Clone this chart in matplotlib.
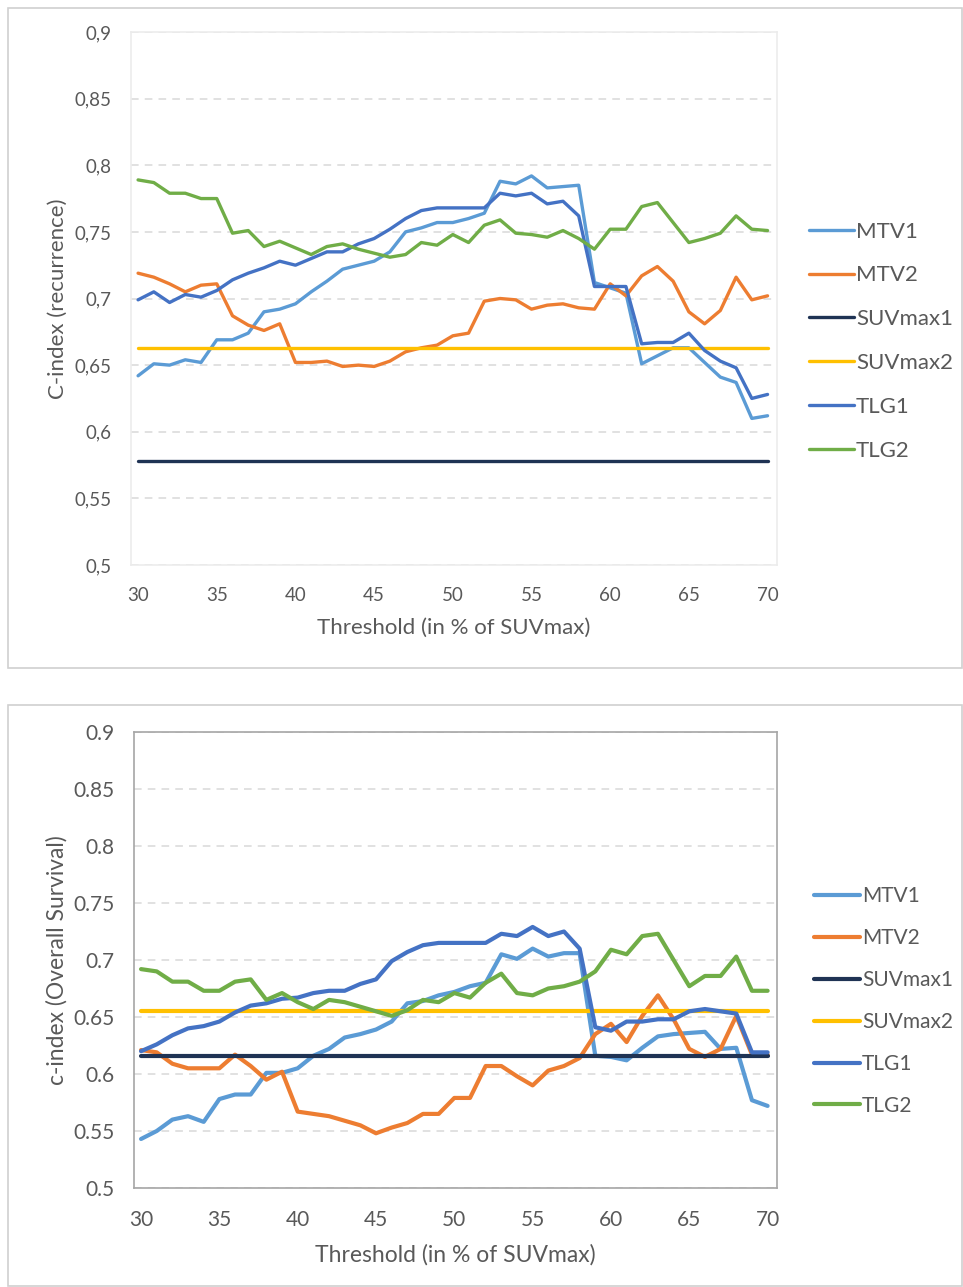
import numpy as np
import matplotlib
matplotlib.use("Agg")
from matplotlib import pyplot as plt
from matplotlib.patches import Rectangle
from matplotlib.ticker import FuncFormatter

plt.rcParams['font.family'] = ['Lato', 'DejaVu Sans']

thresholds = list(range(30, 71))
series_names = ["MTV1", "MTV2", "SUVmax1", "SUVmax2", "TLG1", "TLG2"]
colors = ["#5B9BD5", "#ED7D31", "#1F3354", "#FFC000", "#4472C4", "#70AD47"]

# C-index for recurrence (top chart)
rec_mtv1 = [0.642, 0.651, 0.650, 0.654, 0.652, 0.669, 0.669, 0.674, 0.690, 0.692,
            0.696, 0.705, 0.713, 0.722, 0.725, 0.728, 0.735, 0.750, 0.753, 0.757,
            0.757, 0.760, 0.764, 0.788, 0.786, 0.792, 0.783, 0.784, 0.785, 0.712,
            0.708, 0.704, 0.651, 0.657, 0.663, 0.663, 0.652, 0.641, 0.637, 0.610,
            0.612]
rec_mtv2 = [0.719, 0.716, 0.711, 0.705, 0.710, 0.711, 0.687, 0.680, 0.676, 0.681,
            0.652, 0.652, 0.653, 0.649, 0.650, 0.649, 0.653, 0.660, 0.663, 0.665,
            0.672, 0.674, 0.698, 0.700, 0.699, 0.692, 0.695, 0.696, 0.693, 0.692,
            0.711, 0.702, 0.717, 0.724, 0.713, 0.690, 0.681, 0.691, 0.716, 0.699,
            0.702]
rec_suvmax1 = [0.578] * 41
rec_suvmax2 = [0.663] * 41
rec_tlg1 = [0.699, 0.705, 0.697, 0.703, 0.701, 0.706, 0.714, 0.719, 0.723, 0.728,
            0.725, 0.730, 0.735, 0.735, 0.741, 0.745, 0.752, 0.760, 0.766, 0.768,
            0.768, 0.768, 0.768, 0.779, 0.777, 0.779, 0.771, 0.773, 0.762, 0.709,
            0.709, 0.709, 0.666, 0.667, 0.667, 0.674, 0.661, 0.653, 0.648, 0.625,
            0.628]
rec_tlg2 = [0.789, 0.787, 0.779, 0.779, 0.775, 0.775, 0.749, 0.751, 0.739, 0.743,
            0.738, 0.733, 0.739, 0.741, 0.737, 0.734, 0.731, 0.733, 0.742, 0.740,
            0.748, 0.742, 0.755, 0.759, 0.749, 0.748, 0.746, 0.751, 0.745, 0.737,
            0.752, 0.752, 0.769, 0.772, 0.757, 0.742, 0.745, 0.749, 0.762, 0.752,
            0.751]

# c-index for overall survival (bottom chart)
os_mtv1 = [0.543, 0.550, 0.560, 0.563, 0.558, 0.578, 0.582, 0.582, 0.601, 0.601,
           0.605, 0.616, 0.622, 0.632, 0.635, 0.639, 0.646, 0.662, 0.664, 0.669,
           0.672, 0.677, 0.680, 0.705, 0.701, 0.710, 0.703, 0.706, 0.706, 0.616,
           0.615, 0.612, 0.623, 0.633, 0.635, 0.636, 0.637, 0.622, 0.623, 0.577,
           0.572]
os_mtv2 = [0.621, 0.619, 0.609, 0.605, 0.605, 0.605, 0.617, 0.607, 0.595, 0.602,
           0.567, 0.565, 0.563, 0.559, 0.555, 0.548, 0.553, 0.557, 0.565, 0.565,
           0.579, 0.579, 0.607, 0.607, 0.598, 0.590, 0.603, 0.607, 0.614, 0.635,
           0.644, 0.628, 0.651, 0.669, 0.648, 0.622, 0.615, 0.622, 0.651, 0.617,
           0.617]
os_suvmax1 = [0.616] * 41
os_suvmax2 = [0.655] * 41
os_tlg1 = [0.620, 0.626, 0.634, 0.640, 0.642, 0.646, 0.654, 0.660, 0.662, 0.666,
           0.667, 0.671, 0.673, 0.673, 0.679, 0.683, 0.699, 0.707, 0.713, 0.715,
           0.715, 0.715, 0.715, 0.723, 0.721, 0.729, 0.721, 0.725, 0.710, 0.641,
           0.638, 0.646, 0.646, 0.648, 0.648, 0.655, 0.657, 0.655, 0.653, 0.619,
           0.619]
os_tlg2 = [0.692, 0.690, 0.681, 0.681, 0.673, 0.673, 0.681, 0.683, 0.665, 0.671,
           0.663, 0.657, 0.665, 0.663, 0.659, 0.655, 0.651, 0.656, 0.665, 0.663,
           0.671, 0.667, 0.680, 0.688, 0.671, 0.669, 0.675, 0.677, 0.681, 0.690,
           0.709, 0.705, 0.721, 0.723, 0.700, 0.677, 0.686, 0.686, 0.703, 0.673,
           0.673]

W, H = 963, 1287
fig = plt.figure(figsize=(W / 100, H / 100), dpi=100)

def px(x0, y0, x1, y1):
    # pixel box (top-left origin) -> figure fraction rect
    return [x0 / W, 1 - y1 / H, (x1 - x0) / W, (y1 - y0) / H]

# outer chart frames
for (x0, y0, x1, y1) in [(8, 8, 962, 668), (8, 705, 962, 1286)]:
    fig.patches.append(Rectangle((x0 / W, 1 - y1 / H), (x1 - x0) / W, (y1 - y0) / H,
                                 transform=fig.transFigure, fill=False,
                                 edgecolor="#d0d0d0", linewidth=1.2))

def panel(rect, data, ylabel, comma, lw, frame_color, leg_y, leg_x,
          tick_fs, lab_fs, leg_fs, spacing, handlelen, ylabpad):
    ax = fig.add_axes(px(*rect))
    for vals, name, c in zip(data, series_names, colors):
        ax.plot(thresholds, vals, color=c, linewidth=lw, label=name,
                solid_capstyle="round", solid_joinstyle="round")
    ax.set_xlim(29.55, 70.6)
    ax.set_ylim(0.5, 0.9)
    ax.set_xticks(range(30, 71, 5))
    ax.set_yticks(np.arange(0.5, 0.901, 0.05))
    if comma:
        fmt = FuncFormatter(lambda v, p: ("%g" % round(v, 2)).replace(".", ","))
    else:
        fmt = FuncFormatter(lambda v, p: "%g" % round(v, 2))
    ax.yaxis.set_major_formatter(fmt)
    ax.grid(axis="y", color="#d9d9d9", linestyle=(0, (5, 4)), linewidth=1.1)
    ax.set_axisbelow(True)
    for s in ax.spines.values():
        s.set_color(frame_color)
        s.set_linewidth(1.2)
    ax.tick_params(length=0, labelsize=tick_fs, labelcolor="#595959")
    ax.tick_params(axis="x", pad=16)
    ax.tick_params(axis="y", pad=14)
    ax.set_ylabel(ylabel, fontsize=lab_fs, color="#595959", labelpad=ylabpad)
    ax.set_xlabel("Threshold (in % of SUVmax)", fontsize=lab_fs, color="#595959",
                  labelpad=10)
    ax.legend(loc="center left", bbox_to_anchor=(leg_x, leg_y), frameon=False,
              labelcolor="#595959", handlelength=handlelen,
              handletextpad=0.1, labelspacing=spacing, borderaxespad=0,
              prop={"size": leg_fs})
    return ax

panel((131, 32, 777, 565),
      [rec_mtv1, rec_mtv2, rec_suvmax1, rec_suvmax2, rec_tlg1, rec_tlg2],
      "C-index (recurrence)", True, 2.4, "#ececec", 0.42, 1.036,
      13.5, 16, 16, 1.07, 2.0, 5)
panel((134, 732, 777, 1188),
      [os_mtv1, os_mtv2, os_suvmax1, os_suvmax2, os_tlg1, os_tlg2],
      "c-index (Overall Survival)", False, 3.0, "#a6a6a6", 0.41, 1.045,
      15, 16.5, 15, 1.05, 2.2, 4)

fig.savefig("out.png", dpi=100)
